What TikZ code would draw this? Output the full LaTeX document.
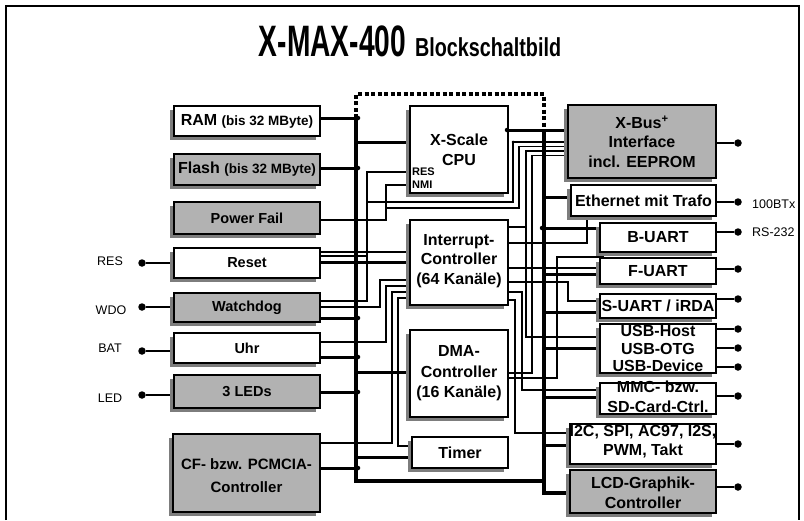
\documentclass[tikz,border=0pt]{standalone}
\usepackage{fontspec}
\setmainfont{Liberation Sans}
\usepackage{graphicx}
\usetikzlibrary{shadows}
\definecolor{boxgray}{RGB}{178,178,178}
\definecolor{shgray}{RGB}{125,125,125}
\pgfdeclarelayer{bg}
\pgfdeclarelayer{paper}
\pgfsetlayers{paper,bg,main}
\tikzset{
 bx/.style={draw, line width=1.8pt, inner sep=0pt,
   drop shadow={shadow xshift=-4pt, shadow yshift=-4pt, fill=shgray, opacity=1}},
 tx/.style={align=center, font=\bfseries\fontsize{16}{19.5}\selectfont, inner sep=0pt},
 ltx/.style={align=center, font=\bfseries\fontsize{14.5}{17}\selectfont, inner sep=0pt},
 lab/.style={font=\fontsize{12.5}{14}\selectfont, inner sep=0pt},
 bus/.style={line width=3.8pt},
 thk/.style={line width=3pt},
 thn/.style={line width=1.3pt},
 pin/.style={circle, fill, inner sep=0pt, minimum size=7.5pt},
 jn/.style={circle, fill, inner sep=0pt, minimum size=4.5pt},
}
\newcommand\blk[6]{%
  \node[bx, fill=#6, minimum width={#4-#2}, minimum height={#5-#3}] (#1) at ({(#2+#4)/2},{(#3+#5)/2}) {};}
\begin{document}
\begin{tikzpicture}[x=1pt,y=-1pt]
\useasboundingbox (0,0) rectangle (804,520);
\begin{pgfonlayer}{paper}
\fill[white] (0,0) rectangle (804,520);
\end{pgfonlayer}
% frame
\draw[line width=1.6pt] (6,520) -- (6,6) -- (799,6) -- (799,520);
% title
\node[inner sep=0pt, font=\bfseries] (title) at (410,41)
  {\scalebox{0.64}[1]{\fontsize{44}{44}\selectfont X-MAX-400}\hspace{9pt}\scalebox{0.76}[1]{\fontsize{26}{26}\selectfont Blockschaltbild}};

% coordinates of buses
\coordinate (LB) at (356,0);
\coordinate (RB) at (544,0);

% left boxes
\blk{ram}{174}{106}{320}{136}{white}
\blk{flash}{174}{154}{320}{185}{boxgray}
\blk{pfail}{174}{202}{320}{234}{boxgray}
\blk{reset}{174}{248}{320}{278}{white}
\blk{wdog}{174}{293}{320}{322}{boxgray}
\blk{uhr}{174}{333}{320}{363}{white}
\blk{leds}{174}{375}{320}{408}{boxgray}
\blk{cf}{173}{434}{320}{512}{boxgray}
% center boxes
\blk{cpu}{410}{106}{508}{193}{white}
\blk{ic}{410}{220}{508}{305}{white}
\blk{dma}{410}{330}{508}{417}{white}
\blk{timer}{412}{437}{508}{468}{white}
% right boxes
\blk{xbus}{568}{105}{716}{178}{boxgray}
\blk{eth}{571}{185}{716}{216}{white}
\blk{buart}{600}{223}{716}{252}{white}
\blk{fuart}{600}{258}{716}{284}{white}
\blk{suart}{600}{294}{716}{318}{white}
\blk{usb}{600}{324}{716}{373}{white}
\blk{mmc}{600}{383}{716}{414}{white}
\blk{i2c}{570}{424}{716}{464}{white}
\blk{lcd}{570}{470}{716}{513}{boxgray}

% texts
\node[ltx] (tram) at (ram.center) {\fontsize{16}{17}\selectfont RAM\ \fontsize{13.5}{15}\selectfont(bis 32 MByte)};
\node[ltx] (tflash) at (flash.center) {\fontsize{16}{17}\selectfont Flash\ \fontsize{13.5}{15}\selectfont(bis 32 MByte)};
\node[ltx] (tpfail) at (pfail.center) {Power Fail};
\node[ltx] (treset) at (reset.center) {Reset};
\node[ltx] (twdog) at (wdog.center) {Watchdog};
\node[ltx] (tuhr) at (uhr.center) {Uhr};
\node[ltx] (tleds) at (leds.center) {3 LEDs};
\node[tx, font=\bfseries\fontsize{15}{23}\selectfont] (tcf) at ([yshift=-2.5pt]cf.center) {CF- bzw. PCMCIA-\\Controller};
\node[tx, font=\bfseries\fontsize{16}{20}\selectfont] (tcpu) at (cpu.center) {X-Scale\\CPU};
\node[inner sep=0pt, anchor=west, font=\bfseries\fontsize{11}{12}\selectfont] (tres) at (412,172) {RES};
\node[inner sep=0pt, anchor=west, font=\bfseries\fontsize{11}{12}\selectfont] (tnmi) at (412,185) {NMI};
\node[tx] (tic) at ([yshift=1.5pt]ic.center) {Interrupt-\\Controller\\(64 Kanäle)};
\node[tx, font=\bfseries\fontsize{16}{20.5}\selectfont] (tdma) at (dma.center) {DMA-\\Controller\\(16 Kanäle)};
\node[tx] (ttimer) at (timer.center) {Timer};
\node[tx] (txbus) at (xbus.center) {X-Bus\textsuperscript{+}\\Interface\\incl. EEPROM};
\node[tx] (teth) at (eth.center) {Ethernet mit Trafo};
\node[tx] (tbuart) at (buart.center) {B-UART};
\node[tx] (tfuart) at (fuart.center) {F-UART};
\node[tx] (tsuart) at (suart.center) {S-UART / iRDA};
\node[tx, font=\bfseries\fontsize{16}{17.5}\selectfont] (tusb) at (usb.center) {USB-Host\\USB-OTG\\USB-Device};
\node[tx, font=\bfseries\fontsize{16}{20}\selectfont] (tmmc) at ([yshift=1.5pt]mmc.center) {MMC- bzw.\\SD-Card-Ctrl.};
\node[tx] (ti2c) at ([yshift=2.5pt]i2c.center) {I2C, SPI, AC97, I2S,\\PWM, Takt};
\node[tx, font=\bfseries\fontsize{16}{20}\selectfont] (tlcd) at ([yshift=-1.5pt]lcd.center) {LCD-Graphik-\\Controller};

% outer labels and pins
\node[lab] (lres) at (110,261) {RES};
\node[lab] (lwdo) at (111,310) {WDO};
\node[lab] (lbat) at (110,348) {BAT};
\node[lab] (lled) at (110,398) {LED};
\node[pin] (pres) at (142,263) {};
\node[pin] (pwdo) at (142,307) {};
\node[pin] (pbat) at (142,351) {};
\node[pin] (pled) at (142,395) {};
\node[pin] (pxbus) at (738,143) {};
\node[pin] (peth) at (738,202) {};
\node[pin] (pbuart) at (738,232) {};
\node[pin] (pfuart) at (738,269) {};
\node[pin] (psuart) at (738,299) {};
\node[pin] (pusbA) at (738,329) {};
\node[pin] (pusbB) at (738,348) {};
\node[pin] (pusbC) at (738,367) {};
\node[pin] (pmmc) at (738,396) {};
\node[pin] (pi2c) at (738,444) {};
\node[pin] (plcd) at (738,487) {};
\node[lab, anchor=west] (l100) at (752,204) {100BTx};
\node[lab, anchor=west] (lrs) at (752,232) {RS-232};

% junction dots
\node[jn] (j1) at (358,118) {};
\node[jn] (j2) at (358,168) {};
\node[jn] (j3) at (358,318) {};
\node[jn] (j4) at (358,357) {};
\node[jn] (j5) at (358,392) {};
\node[jn] (j6) at (358,468) {};
\node[jn] (j7) at (542,228) {};
\node[jn] (j8) at (507,130) {};
\node[jn, minimum size=3pt] (j9) at (513,142) {};

\begin{pgfonlayer}{bg}
% buses
\draw[bus, dash pattern=on 4pt off 2.5pt] (LB |- 0,118) -- (LB |- 0,94) -- (RB |- 0,94) -- (RB |- 0,130);
\draw[bus] (LB |- 0,118) -- (LB |- 0,481) -- (RB |- 0,481);
\draw[bus] (RB |- 0,130) -- (RB |- 0,493) -- (lcd.west |- 0,493);
% left thick
\draw[thk] (ram.east |- 0,118) -- (LB |- 0,118);
\draw[thk] (flash.east |- 0,168) -- (LB |- 0,168);
\draw[thk] (LB |- 0,142) -- (cpu.west |- 0,142);
\draw[thk] (reset.east |- 0,262) -- (ic.west |- 0,262);
\draw[thk] (wdog.east |- 0,318) -- (LB |- 0,318);
\draw[thk] (uhr.east |- 0,357) -- (LB |- 0,357);
\draw[thk] (leds.east |- 0,392) -- (LB |- 0,392);
\draw[thk] (LB |- 0,372) -- (dma.west |- 0,372);
\draw[thk] (cf.east |- 0,468) -- (LB |- 0,468);
\draw[thk] (LB |- 0,457) -- (timer.west |- 0,457);
% left thin
\draw[thn] (pfail.east |- 0,220) -- (386,220) -- (386,185) -- (cpu.west |- 0,185);
\draw[thn] (reset.east |- 0,252) -- (ic.west |- 0,252);
\draw[thn] (reset.east |- 0,256) -- (367,256);
\draw[thn] (wdog.east |- 0,301) -- (367,301) -- (367,172) -- (cpu.west |- 0,172);
\draw[thn] (wdog.east |- 0,307) -- (380,307) -- (380,280) -- (ic.west |- 0,280);
\draw[thn] (uhr.east |- 0,342) -- (386,342) -- (386,286) -- (ic.west |- 0,286);
\draw[thn] (cf.east |- 0,443) -- (392,443) -- (392,292) -- (ic.west |- 0,292);
\draw[thn] (ic.west |- 0,298) -- (398,298) -- (398,446) -- (timer.west |- 0,446);
\draw[thn] (367,202) -- (513,202) -- (513,142) -- (xbus.west |- 0,142);
\draw[thn] (386,208) -- (519,208) -- (519,146.5) -- (xbus.west |- 0,146.5);
% right side
\draw[thk] (cpu.east |- 0,130) -- (xbus.west |- 0,130);
\draw[thn] (xbus.west |- 0,151) -- (526,151) -- (526,337) -- (usb.west |- 0,337);
\draw[thn] (ic.east |- 0,227) -- (526,227);
\draw[thn] (xbus.west |- 0,155.5) -- (532,155.5) -- (532,373) -- (dma.east |- 0,373);
\draw[thk] (RB |- 0,197) -- (eth.west |- 0,197);
\draw[thn] (eth.south -| 587,0) -- (587,243) -- (ic.east |- 0,243);
\draw[thk] (RB |- 0,228) -- (buart.west |- 0,228);
\draw[thn] (dma.east |- 0,378) -- (557,378) -- (557,257) -- (604,257);
\draw[thn] (ic.east |- 0,268) -- (fuart.west |- 0,268);
\draw[thk] (RB |- 0,274) -- (fuart.west |- 0,274);
\draw[thn] (ic.east |- 0,282) -- (568,282) -- (568,301) -- (suart.west |- 0,301);
\draw[thk] (RB |- 0,312) -- (suart.west |- 0,312);
\draw[thk] (RB |- 0,348) -- (usb.west |- 0,348);
\draw[thn] (ic.east |- 0,292) -- (522,292) -- (522,390) -- (mmc.west |- 0,390);
\draw[thk] (RB |- 0,397) -- (mmc.west |- 0,397);
\draw[thn] (ic.east |- 0,300) -- (515,300) -- (515,433) -- (i2c.west |- 0,433);
\draw[thk] (RB |- 0,445) -- (i2c.west |- 0,445);
% external connections
\draw[thn] (pres) -- (reset.west |- pres);
\draw[thn] (pwdo) -- (wdog.west |- pwdo);
\draw[thn] (pbat) -- (uhr.west |- pbat);
\draw[thn] (pled) -- (leds.west |- pled);
\draw[thn] (xbus.east |- pxbus) -- (pxbus);
\draw[thn] (eth.east |- peth) -- (peth);
\draw[thn] (buart.east |- pbuart) -- (pbuart);
\draw[thn] (fuart.east |- pfuart) -- (pfuart);
\draw[thn] (suart.east |- psuart) -- (psuart);
\draw[thn] (usb.east |- pusbA) -- (pusbA);
\draw[thn] (usb.east |- pusbB) -- (pusbB);
\draw[thn] (usb.east |- pusbC) -- (pusbC);
\draw[thn] (mmc.east |- pmmc) -- (pmmc);
\draw[thn] (i2c.east |- pi2c) -- (pi2c);
\draw[thn] (lcd.east |- plcd) -- (plcd);
\end{pgfonlayer}
\end{tikzpicture}
\end{document}
